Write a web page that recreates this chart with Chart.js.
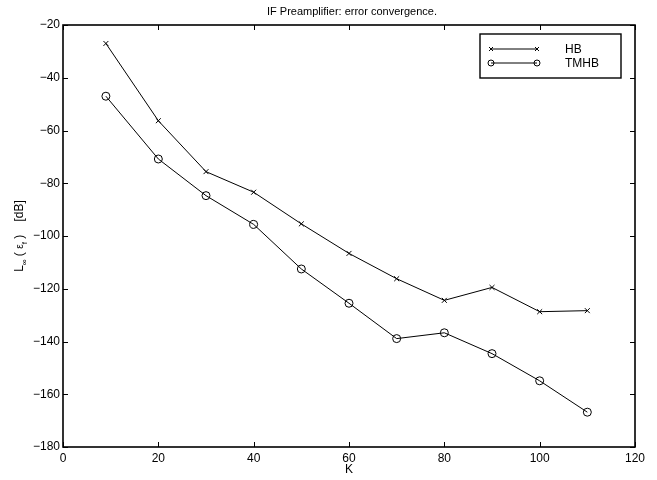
<!DOCTYPE html>
<html>
<head>
<meta charset="utf-8">
<script src="https://cdn.jsdelivr.net/npm/chart.js@4.4.1/dist/chart.umd.min.js"></script>
<style>
  body { margin: 0; background: #fff; }
  canvas { display: block; }
</style>
</head>
<body>
<canvas id="errChart" width="657" height="480"></canvas>
<script>
const kValues = [9, 20, 30, 40, 50, 60, 70, 80, 90, 100, 110];
const hbValues = [-27, -56.3, -75.6, -83.4, -95.4, -106.6, -116.2, -124.4, -119.5, -128.7, -128.3];
const tmhbValues = [-47, -70.8, -84.7, -95.6, -112.5, -125.5, -138.9, -136.7, -144.6, -154.9, -166.8];
const xTicks = [0, 20, 40, 60, 80, 100, 120];
const yTicks = [-180, -160, -140, -120, -100, -80, -60, -40, -20];
const seriesNames = ['HB', 'TMHB'];

const FONT = '"Liberation Sans", Arial, Helvetica, sans-serif';

// box, inward ticks, title, y label and legend in MATLAB style
const matlabAxes = {
  id: 'matlabAxes',
  afterDraw(chart) {
    const { ctx, chartArea, scales } = chart;
    const { left, right, top, bottom } = chartArea;
    ctx.save();
    ctx.strokeStyle = '#000';
    ctx.lineWidth = 1.6;
    ctx.strokeRect(Math.round(left), Math.round(top),
      Math.round(right - left), Math.round(bottom - top));

    ctx.lineWidth = 1;
    ctx.beginPath();
    scales.x.ticks.forEach(t => {
      const px = Math.round(scales.x.getPixelForValue(t.value)) + 0.5;
      ctx.moveTo(px, bottom); ctx.lineTo(px, bottom - 5);
      ctx.moveTo(px, top); ctx.lineTo(px, top + 5);
    });
    scales.y.ticks.forEach(t => {
      const py = Math.round(scales.y.getPixelForValue(t.value)) + 0.5;
      ctx.moveTo(left, py); ctx.lineTo(left + 5, py);
      ctx.moveTo(right, py); ctx.lineTo(right - 5, py);
    });
    ctx.stroke();

    // title
    ctx.fillStyle = '#000';
    ctx.font = '11px ' + FONT;
    ctx.textAlign = 'center';
    ctx.textBaseline = 'middle';
    ctx.fillText('IF Preamplifier: error convergence.', (left + right) / 2 + 3, 12);

    // y label with subscripts
    const parts = [
      ['L', 12, 0], ['\u221E', 8, 4], [' ( ', 12, 0], ['\u03B5', 10, 0],
      ['f', 8, 4], [' )', 12, 0], ['    [dB]', 12, 0]
    ];
    let total = 0;
    parts.forEach(p => { ctx.font = p[1] + 'px ' + FONT; total += ctx.measureText(p[0]).width; });
    ctx.translate(19, (top + bottom) / 2);
    ctx.rotate(-Math.PI / 2);
    ctx.textAlign = 'left';
    ctx.textBaseline = 'alphabetic';
    let cx = -total / 2;
    parts.forEach(p => {
      ctx.font = p[1] + 'px ' + FONT;
      ctx.fillText(p[0], cx, 4 + p[2]);
      cx += ctx.measureText(p[0]).width;
    });
    ctx.setTransform(1, 0, 0, 1, 0, 0);

    // legend
    const bx = right - 155, by = top + 9, bw = 141, bh = 44;
    ctx.lineWidth = 1.4;
    ctx.strokeRect(bx, by, bw, bh);
    ctx.lineWidth = 1;
    const styles = chart.data.datasets;
    seriesNames.forEach((name, i) => {
      const ly = by + 15 + i * 14;
      const x1 = bx + 11, x2 = bx + 57;
      ctx.beginPath();
      ctx.moveTo(x1, ly); ctx.lineTo(x2, ly);
      ctx.stroke();
      [x1, x2].forEach(mx => {
        ctx.beginPath();
        if (styles[i].pointStyle === 'crossRot') {
          ctx.moveTo(mx - 2, ly - 2); ctx.lineTo(mx + 2, ly + 2);
          ctx.moveTo(mx - 2, ly + 2); ctx.lineTo(mx + 2, ly - 2);
        } else {
          ctx.arc(mx, ly, 3, 0, Math.PI * 2);
        }
        ctx.stroke();
      });
      ctx.font = '12px ' + FONT;
      ctx.textAlign = 'left';
      ctx.textBaseline = 'middle';
      ctx.fillText(name, bx + 85, ly + 1);
    });
    ctx.restore();
  }
};

new Chart(document.getElementById('errChart'), {
  type: 'line',
  data: {
    datasets: [
      {
        label: seriesNames[0],
        data: kValues.map((k, i) => ({ x: k, y: hbValues[i] })),
        borderColor: '#000',
        borderWidth: 1,
        pointStyle: 'crossRot',
        pointRadius: 3.5,
        pointBorderColor: '#000',
        pointBorderWidth: 1,
        pointBackgroundColor: 'rgba(0,0,0,0)',
        tension: 0
      },
      {
        label: seriesNames[1],
        data: kValues.map((k, i) => ({ x: k, y: tmhbValues[i] })),
        borderColor: '#000',
        borderWidth: 1,
        pointStyle: 'circle',
        pointRadius: 4,
        pointBorderColor: '#000',
        pointBorderWidth: 1,
        pointBackgroundColor: 'rgba(0,0,0,0)',
        tension: 0
      }
    ]
  },
  options: {
    responsive: false,
    animation: false,
    layout: { padding: { top: 25, right: 22, left: 0, bottom: 0 } },
    plugins: {
      legend: { display: false },
      tooltip: { enabled: false },
      title: { display: false }
    },
    scales: {
      x: {
        type: 'linear',
        min: 0,
        max: 120,
        afterBuildTicks: s => { s.ticks = xTicks.map(v => ({ value: v })); },
        afterFit: s => { s.height = 33; },
        grid: { display: false, drawTicks: false },
        border: { display: false },
        ticks: { color: '#000', padding: 4, font: { family: FONT, size: 12 } },
        title: { display: true, text: 'K', color: '#000', padding: { top: 0, bottom: 3 }, font: { family: FONT, size: 12 } }
      },
      y: {
        type: 'linear',
        min: -180,
        max: -20,
        afterBuildTicks: s => { s.ticks = yTicks.map(v => ({ value: v })); },
        afterFit: s => { s.width = 63; },
        grid: { display: false, drawTicks: false },
        border: { display: false },
        ticks: {
          color: '#000',
          padding: 3,
          font: { family: FONT, size: 12 },
          callback: v => String(v).replace('-', '\u2212')
        }
      }
    }
  },
  plugins: [matlabAxes]
});
</script>
</body>
</html>
